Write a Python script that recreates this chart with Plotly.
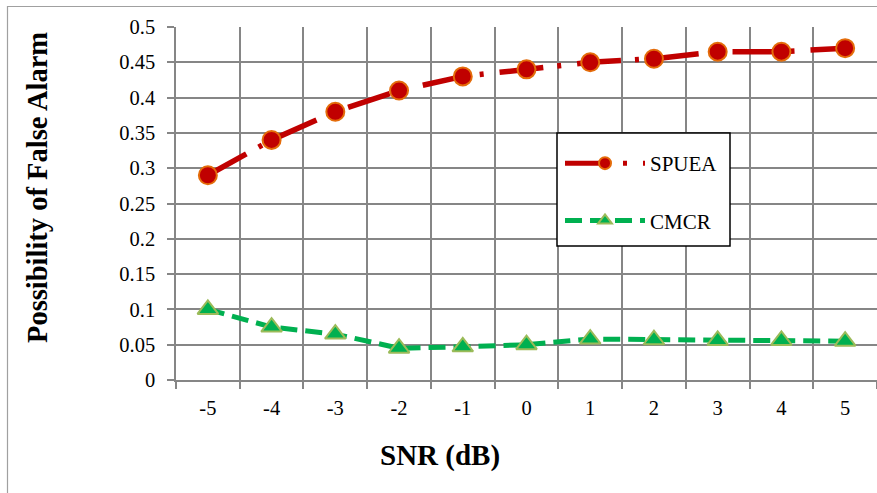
import plotly.graph_objects as go

snr = [-5, -4, -3, -2, -1, 0, 1, 2, 3, 4, 5]
spuea = [0.29, 0.34, 0.38, 0.41, 0.43, 0.44, 0.45, 0.455, 0.465, 0.465, 0.47]
cmcr = [0.10, 0.075, 0.065, 0.045, 0.047, 0.05, 0.058, 0.057, 0.056, 0.056, 0.055]
y_ticks = [0, 0.05, 0.1, 0.15, 0.2, 0.25, 0.3, 0.35, 0.4, 0.45, 0.5]
y_labels = ["0", "0.05", "0.1", "0.15", "0.2", "0.25", "0.3", "0.35", "0.4", "0.45", "0.5"]

FONT = "Liberation Serif"
GRID = "#868686"

def px(xp):
    return (xp - 176) / 701

def py(yp):
    return (380 - yp) / 353

fig = go.Figure()
fig.add_trace(go.Scatter(
    x=snr, y=spuea, name="SPUEA", mode="lines+markers", legendgroup="a",
    line=dict(color="#C00000", width=5.5, dash="44px,14px,4px,16px"),
    marker=dict(symbol="circle", size=18, color="#C00000",
                line=dict(color="#E46C0A", width=2)),
))
fig.add_trace(go.Scatter(
    x=snr, y=cmcr, name="CMCR", mode="lines+markers", legendgroup="b",
    line=dict(color="#00B050", width=5, dash="17px,8px"),
    marker=dict(symbol="triangle-up", size=18, color="#00B050",
                line=dict(color="#9BBB59", width=2)),
))

fig.update_layout(
    width=877, height=493,
    margin=dict(l=176, r=0, t=27, b=113),
    paper_bgcolor="white", plot_bgcolor="white",
    font=dict(family=FONT, color="black", size=20),
    showlegend=True,
    legend=dict(
        x=px(560), y=py(143), xanchor="left", yanchor="top",
        borderwidth=0, bgcolor="rgba(0,0,0,0)",
        font=dict(family=FONT, size=21),
        itemwidth=80, tracegroupgap=27, itemsizing="constant",
    ),
    xaxis=dict(
        range=[-5.5, 5.5], tickmode="array", tickvals=snr,
        ticktext=[str(v) for v in snr], ticks="", showgrid=False,
        showline=True, linecolor=GRID, linewidth=1.5,
        ticklabelstandoff=9, zeroline=False,
        tickfont=dict(family=FONT, size=20.5),
        minor=dict(tickmode="linear", tick0=-5.5, dtick=1, showgrid=True,
                   gridcolor=GRID, gridwidth=1.5, ticks="outside",
                   ticklen=7, tickcolor=GRID, tickwidth=1.5),
    ),
    yaxis=dict(
        range=[0, 0.5], tickmode="array", tickvals=y_ticks, ticktext=y_labels,
        showgrid=True, gridcolor=GRID, gridwidth=1.5, zeroline=False,
        showline=True, linecolor=GRID, linewidth=1.5,
        ticks="outside", ticklen=7, tickcolor=GRID, tickwidth=1.5,
        ticklabelstandoff=8,
        tickfont=dict(family=FONT, size=20.5),
    ),
    annotations=[
        dict(text="<b>SNR (dB)</b>", xref="paper", yref="paper",
             x=px(440), y=py(455), xanchor="center",
             yanchor="middle", showarrow=False,
             font=dict(family=FONT, size=29)),
        dict(text="<b>Possibility of False Alarm</b>", xref="paper",
             yref="paper", x=px(38), y=py(188),
             xanchor="center", yanchor="middle", textangle=-90,
             showarrow=False, font=dict(family=FONT, size=28.5)),
    ],
    shapes=[
        dict(type="rect", xref="paper", yref="paper",
             x0=px(7.5), x1=1.05, y0=-0.5, y1=py(6.5),
             line=dict(color="#A0A0A0", width=1.2), layer="below"),
        dict(type="rect", xref="paper", yref="paper",
             x0=px(557), x1=px(730), y0=py(246), y1=py(133),
             line=dict(color="black", width=1.5), fillcolor="white",
             layer="above"),
    ],
)

fig.write_html("out.html")
